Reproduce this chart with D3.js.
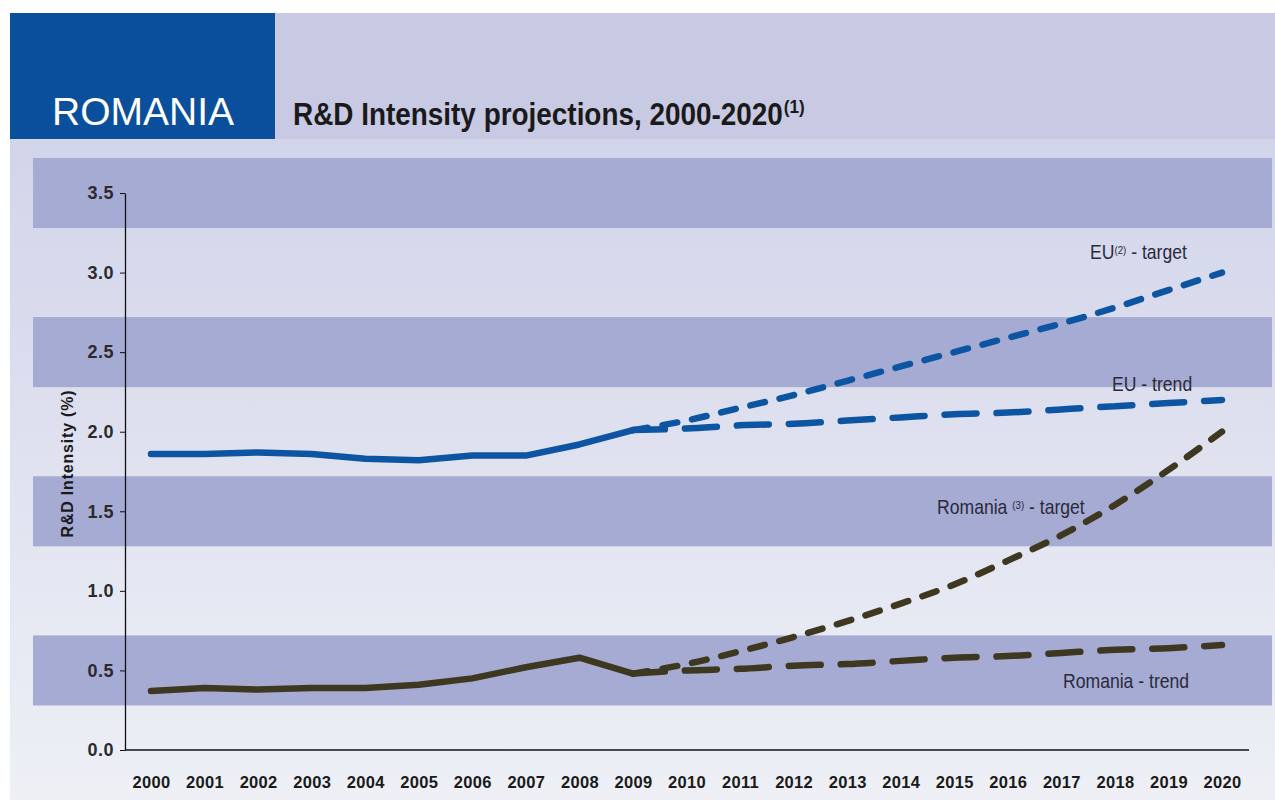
<!DOCTYPE html>
<html>
<head>
<meta charset="utf-8">
<script src="https://cdn.jsdelivr.net/npm/d3@7"></script>
<style>
  html, body { margin: 0; padding: 0; background: #ffffff; }
  svg { display: block; }
</style>
</head>
<body>
<svg id="chart" width="1275" height="800"></svg>
<script>
// ---- data ----
const years = d3.range(2000, 2021);
const yTicks = [0, 0.5, 1.0, 1.5, 2.0, 2.5, 3.0, 3.5];
const bandCenters = [0.5, 1.5, 2.5, 3.5];

const actualYears = [2000, 2001, 2002, 2003, 2004, 2005, 2006, 2007, 2008, 2009];
const euActual = [1.86, 1.86, 1.87, 1.86, 1.83, 1.82, 1.85, 1.85, 1.92, 2.01];
const roActual = [0.37, 0.39, 0.38, 0.39, 0.39, 0.41, 0.45, 0.52, 0.58, 0.48];

const projYears = [2009, 2010, 2011, 2012, 2013, 2014, 2015, 2016, 2017, 2018, 2019, 2020];
const euTarget = [2.01, 2.07, 2.15, 2.23, 2.32, 2.41, 2.50, 2.59, 2.68, 2.78, 2.89, 3.00];
const euTrend  = [2.01, 2.02, 2.04, 2.05, 2.07, 2.09, 2.11, 2.12, 2.14, 2.16, 2.18, 2.20];
const roTarget = [0.48, 0.54, 0.62, 0.71, 0.81, 0.92, 1.04, 1.19, 1.35, 1.54, 1.76, 2.00];
const roTrend  = [0.48, 0.50, 0.51, 0.53, 0.54, 0.56, 0.58, 0.59, 0.61, 0.63, 0.64, 0.66];

const EU_BLUE = "#0d55a3";
const RO_DARK = "#3e3820";
const SANS = "Liberation Sans, Arial, Helvetica, sans-serif";

const svg = d3.select("#chart");
const defs = svg.append("defs");
const grad = defs.append("linearGradient").attr("id", "bg").attr("x1", 0).attr("y1", 0).attr("x2", 0).attr("y2", 1);
grad.append("stop").attr("offset", "0%").attr("stop-color", "#d2d4ea");
grad.append("stop").attr("offset", "100%").attr("stop-color", "#eef0f6");

// ---- header ----
svg.append("rect").attr("x", 10).attr("y", 13).attr("width", 1265).attr("height", 126).attr("fill", "#c8c9e3");
svg.append("rect").attr("x", 10).attr("y", 13).attr("width", 265).attr("height", 126).attr("fill", "#0a4f9c");
svg.append("text").attr("x", 52).attr("y", 125)
  .attr("font-family", SANS).attr("font-size", 39)
  .attr("fill", "#ffffff").text("ROMANIA");
const title = svg.append("text")
  .attr("transform", "translate(293,125) scale(0.9,1)")
  .attr("font-family", SANS)
  .attr("font-weight", "bold").attr("font-size", 31).attr("fill", "#1a1a1a");
title.append("tspan").text("R&D Intensity projections, 2000-2020");
title.append("tspan").attr("font-size", 19).attr("dy", -12).attr("dx", 1).text("(1)");

// ---- chart panel ----
svg.append("rect").attr("x", 10).attr("y", 139).attr("width", 1265).attr("height", 661).attr("fill", "url(#bg)");

const x = d3.scalePoint().domain(years).range([151, 1222]);
const y = d3.scaleLinear().domain([0, 3.5]).range([750, 193]);

// alternating bands
svg.append("g").selectAll("rect").data(bandCenters).join("rect")
  .attr("x", 33).attr("width", 1239)
  .attr("y", d => Math.max(y(d + 0.22), 157))
  .attr("height", d => y(d - 0.22) - Math.max(y(d + 0.22), 157))
  .attr("fill", "#a6abd4");

// y axis
const yAxis = svg.append("g").attr("transform", "translate(125,0)")
  .call(d3.axisLeft(y).tickValues(yTicks).tickFormat(d3.format(".1f")).tickSize(5).tickSizeOuter(0));
yAxis.select(".domain").attr("stroke", "#111").attr("stroke-width", 1.3);
yAxis.selectAll(".tick line").attr("stroke", "#111");
yAxis.selectAll(".tick text").attr("font-family", SANS)
  .attr("font-weight", "bold").attr("font-size", 18).attr("letter-spacing", 0.5)
  .attr("fill", "#2a2a2a").attr("x", -11);

// x axis line
svg.append("line").attr("x1", 125).attr("x2", 1249).attr("y1", y(0)).attr("y2", y(0))
  .attr("stroke", "#111").attr("stroke-width", 1.5);

// x labels
const xAxis = svg.append("g").attr("transform", `translate(0,${y(0)})`)
  .call(d3.axisBottom(x).tickSize(0).tickPadding(26));
xAxis.select(".domain").remove();
xAxis.selectAll(".tick text").attr("font-family", SANS)
  .attr("font-weight", "bold").attr("font-size", 16.5).attr("letter-spacing", 0.3).attr("fill", "#1a1a1a");

// y axis title
svg.append("text").attr("transform", `translate(73,${y(1.8)}) rotate(-90)`)
  .attr("text-anchor", "middle").attr("font-family", SANS)
  .attr("font-weight", "bold").attr("font-size", 16).attr("letter-spacing", 0.8).attr("fill", "#1a1a1a")
  .text("R&D Intensity (%)");

// ---- lines ----
function drawLine(xs, vs, color, dash, curve) {
  const line = d3.line().x(d => x(d[0])).y(d => y(d[1])).curve(curve);
  svg.append("path").datum(xs.map((yr, i) => [yr, vs[i]]))
    .attr("d", line).attr("fill", "none").attr("stroke", color)
    .attr("stroke-width", 6.5).attr("stroke-linecap", "round").attr("stroke-linejoin", "round")
    .attr("stroke-dasharray", dash);
}
drawLine(actualYears, euActual, EU_BLUE, null, d3.curveLinear);
drawLine(actualYears, roActual, RO_DARK, null, d3.curveLinear);
drawLine(projYears, euTrend, EU_BLUE, "32 20", d3.curveMonotoneX);
drawLine(projYears, euTarget, EU_BLUE, "15 15", d3.curveMonotoneX);
drawLine(projYears, roTrend, RO_DARK, "32 20", d3.curveMonotoneX);
drawLine(projYears, roTarget, RO_DARK, "15 15", d3.curveMonotoneX);

// ---- annotations ----
function label(xp, yp, parts) {
  const t = svg.append("text").attr("transform", `translate(${xp},${yp}) scale(0.88,1)`)
    .attr("font-family", SANS).attr("font-size", 20).attr("fill", "#2a2a3a");
  parts.forEach(p => {
    const s = t.append("tspan").text(p.t);
    if (p.sup) s.attr("font-size", 11).attr("baseline-shift", "super");
  });
}
label(1090, 259, [{t: "EU"}, {t: "(2)", sup: true}, {t: "  - target"}]);
label(1112, 391, [{t: "EU - trend"}]);
label(937, 514, [{t: "Romania "}, {t: "(3)", sup: true}, {t: " - target"}]);
label(1063, 688, [{t: "Romania - trend"}]);
</script>
</body>
</html>
